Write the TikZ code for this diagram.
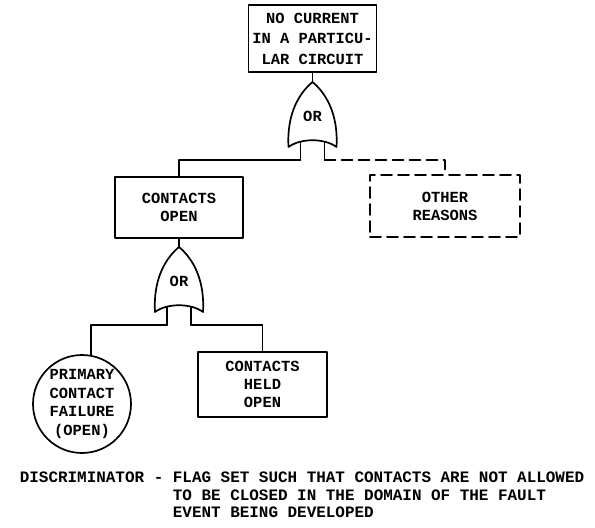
\documentclass[tikz,border=0pt]{standalone}
\usepackage{fontspec}
\setmonofont{Liberation Mono}

\tikzset{
  event/.style={draw,rectangle,align=center,inner sep=1bp},
  other/.style={event,dash pattern=on 11bp off 6bp},
  basic/.style={draw,circle,align=center,inner sep=0bp,minimum size=98bp},
  orgate/.pic={
    \draw (-24,65) .. controls (-26,30) and (-12,10) .. (0,0)
          .. controls (12,10) and (26,30) .. (24,65)
          .. controls (12,56) and (-12,56) .. cycle;
    \draw (-12,60) -- (-12,78);
    \draw (12,60) -- (12,78);
    \coordinate (-top) at (0,0);
    \coordinate (-l) at (-12,78);
    \coordinate (-r) at (12,78);
    \node (-lbl) at (0,34) {OR};
  }
}

\begin{document}
\begin{tikzpicture}[x=1bp,y=-1bp,line cap=round,line join=round,line width=1.7bp,
    font=\ttfamily\bfseries\fontsize{15.5}{18}\selectfont]
    \useasboundingbox (0,0) rectangle (595,528);
    % events
    \node[event,minimum width=128bp,minimum height=67bp,
        font=\ttfamily\bfseries\fontsize{15.5}{20.5}\selectfont] (top) at (312.5,38.5)
        {NO CURRENT\\IN A PARTICU-\\LAR CIRCUIT};
    \node[event,minimum width=128bp,minimum height=61bp] (open) at (179,207.5)
        {CONTACTS\\OPEN};
    \node[other,minimum width=150bp,minimum height=62bp] (reasons) at (445,206)
        {OTHER\\REASONS};
    \node[basic,font=\ttfamily\bfseries\fontsize{15.5}{19}\selectfont] (prim) at (82,404)
        {PRIMARY\\CONTACT\\FAILURE\\ (OPEN)};
    \node[event,minimum width=129bp,minimum height=65bp] (held) at (262.5,384.5)
        {CONTACTS\\HELD\\OPEN};
    % gates
    \pic (g1) at (312.5,82) {orgate};
    \pic (g2) at (179,247) {orgate};
    % connectors
    \draw (top.south) -- (g1-top);
    \draw (g1-l) -| (open.north);
    \draw[dash pattern=on 11bp off 6bp] (g1-r) -| (reasons.north);
    \draw (open.south) -- (g2-top);
    \draw (g2-l) -| (prim.80);
    \draw (g2-r) -| (held.north);
    % note
    \node[anchor=west,align=left,inner sep=0bp,
        font=\ttfamily\bfseries\fontsize{16}{17.5}\selectfont] (note) at (19,495)
        {DISCRIMINATOR - FLAG SET SUCH THAT CONTACTS ARE NOT ALLOWED\\
         \phantom{DISCRIMINATOR - }TO BE CLOSED IN THE DOMAIN OF THE FAULT\\
         \phantom{DISCRIMINATOR - }EVENT BEING DEVELOPED};
\end{tikzpicture}
\end{document}
